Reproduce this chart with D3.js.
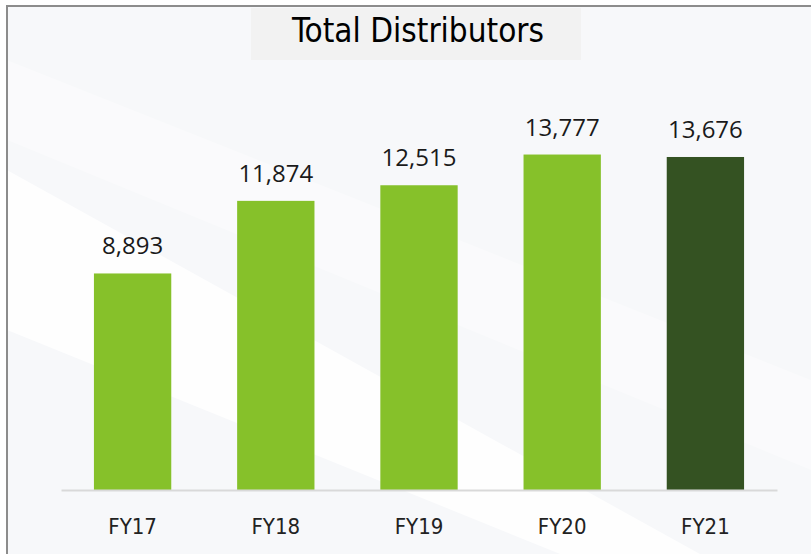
<!DOCTYPE html>
<html>
<head>
<meta charset="utf-8">
<script src="https://cdn.jsdelivr.net/npm/d3@7"></script>
<style>
  body { margin: 0; background: #ffffff; }
  svg { display: block; }
</style>
</head>
<body>
<div class="chart"></div>
<script>
var years = ["FY17", "FY18", "FY19", "FY20", "FY21"];
var distributors = [8893, 11874, 12515, 13777, 13676];
var barColors = ["#86c12a", "#86c12a", "#86c12a", "#86c12a", "#345222"];

var W = 811, H = 554;
var data = years.map(function (d, i) {
    return {year: d, value: distributors[i], color: barColors[i]};
});

var svg = d3.select(".chart").append("svg")
    .attr("width", W)
    .attr("height", H);

// slide background with soft diagonal streaks
svg.append("rect")
    .attr("x", 7).attr("y", 6)
    .attr("width", W).attr("height", H)
    .attr("fill", "#f7f8fa");
svg.append("polygon")
    .attr("points", "7,170 7,330 560,554 700,554")
    .attr("fill", "#ffffff").attr("opacity", 0.8);
svg.append("polygon")
    .attr("points", "7,60 7,140 811,470 811,380")
    .attr("fill", "#ffffff").attr("opacity", 0.35);

// frame
svg.append("path")
    .attr("d", "M7,554 V6 H811")
    .attr("fill", "none")
    .attr("stroke", "#8c8c8c")
    .attr("stroke-width", 2);

// title
svg.append("rect")
    .attr("x", 251).attr("y", 8)
    .attr("width", 330).attr("height", 52)
    .attr("fill", "#f2f2f2");
svg.append("text")
    .attr("x", 418).attr("y", 42)
    .attr("text-anchor", "middle")
    .style("font-family", "'Liberation Sans Narrow', 'DejaVu Sans Condensed', sans-serif")
    .style("font-size", "33px")
    .attr("fill", "#000")
    .text("Total Distributors");

var x = d3.scaleBand()
    .domain(years)
    .range([61, 777])
    .paddingInner(0.46)
    .paddingOuter(0.23);

var y = d3.scaleLinear()
    .domain([0, 16000])
    .range([490, 100.4]);

svg.selectAll(".bar")
    .data(data)
    .enter().append("rect")
    .attr("class", "bar")
    .attr("x", function (d) { return x(d.year); })
    .attr("y", function (d) { return y(d.value); })
    .attr("width", x.bandwidth())
    .attr("height", function (d) { return y(0) - y(d.value); })
    .attr("fill", function (d) { return d.color; });

svg.selectAll(".val")
    .data(data)
    .enter().append("text")
    .attr("class", "val")
    .attr("x", function (d) { return x(d.year) + x.bandwidth() / 2; })
    .attr("y", function (d) { return y(d.value) - 19; })
    .attr("text-anchor", "middle")
    .style("font-family", "'Open Sans', sans-serif")
    .style("font-size", "24px")
    .attr("fill", "#1a1a1a")
    .text(function (d) { return d3.format(",")(d.value); });

var axis = svg.append("g")
    .attr("transform", "translate(0," + y(0) + ")")
    .call(d3.axisBottom(x).tickSize(0).tickSizeOuter(0).tickPadding(28));
axis.select(".domain")
    .attr("stroke", "#d9d9d9")
    .attr("stroke-width", 2);
axis.selectAll(".tick text")
    .style("font-family", "'Liberation Sans Narrow', 'DejaVu Sans Condensed', sans-serif")
    .style("font-size", "22px")
    .attr("fill", "#222");
</script>
</body>
</html>
